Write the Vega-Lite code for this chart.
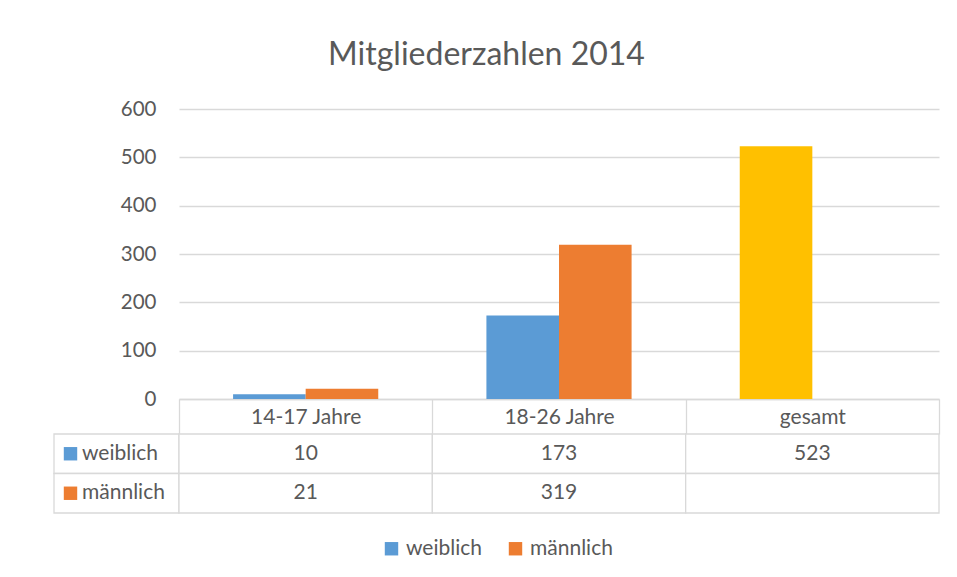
{
  "$schema": "https://vega.github.io/schema/vega-lite/v6.json",
  "autosize": {"type": "pad"},
  "padding": {"left": 53, "top": 39, "right": 19, "bottom": 10},
  "background": "white",
  "title": {
    "text": "Mitgliederzahlen 2014",
    "font": "Lato",
    "fontSize": 32,
    "fontWeight": "normal",
    "color": "#595959",
    "anchor": "middle",
    "dx": -10,
    "offset": 27
  },
  "data": {
    "values": [
      {"kategorie": "14-17 Jahre", "serie": "weiblich", "wert": 10},
      {"kategorie": "14-17 Jahre", "serie": "männlich", "wert": 21},
      {"kategorie": "18-26 Jahre", "serie": "weiblich", "wert": 173},
      {"kategorie": "18-26 Jahre", "serie": "männlich", "wert": 319},
      {"kategorie": "gesamt", "serie": "weiblich", "wert": 523},
      {"kategorie": "gesamt", "serie": "männlich", "wert": null}
    ]
  },
  "columns": 2,
  "spacing": {"row": 35, "column": 0},
  "bounds": "flush",
  "resolve": {"scale": {"x": "independent", "y": "independent"}},
  "concat": [
    {
      "width": 125,
      "height": 290,
      "data": {"values": [{}]},
      "mark": {"type": "text"},
      "encoding": {"text": {"value": ""}}
    },
    {
      "width": 760,
      "height": 290,
      "mark": {"type": "bar"},
      "encoding": {
        "x": {
          "field": "kategorie",
          "type": "nominal",
          "sort": null,
          "scale": {"paddingInner": 0, "paddingOuter": 0},
          "axis": {
            "title": null,
            "labelAngle": 0,
            "grid": false,
            "domainColor": "#d9d9d9",
            "domainWidth": 1.3,
            "tickColor": "#d9d9d9",
            "tickWidth": 1.3,
            "tickBand": "extent",
            "tickSize": 35,
            "labelPadding": -17,
            "labelBaseline": "middle",
            "labelFont": "Lato",
            "labelFontSize": 21,
            "labelColor": "#595959"
          }
        },
        "xOffset": {
          "field": "serie",
          "type": "nominal",
          "sort": ["weiblich", "männlich"],
          "scale": {"paddingInner": 0, "paddingOuter": 0.745}
        },
        "y": {
          "field": "wert",
          "type": "quantitative",
          "scale": {"domain": [0, 600]},
          "axis": {
            "title": null,
            "values": [0, 100, 200, 300, 400, 500, 600],
            "domain": false,
            "ticks": false,
            "labelPadding": 23,
            "gridColor": "#d9d9d9",
            "gridWidth": 1.3,
            "labelFont": "Lato",
            "labelFontSize": 20.5,
            "labelColor": "#595959"
          }
        },
        "color": {
          "field": "serie",
          "type": "nominal",
          "condition": {"test": "datum.kategorie === 'gesamt'", "value": "#FFC000"},
          "scale": {"domain": ["weiblich", "männlich"], "range": ["#5B9BD5", "#ED7D31"]},
          "legend": {
            "title": null,
            "orient": "bottom",
            "direction": "horizontal",
            "offset": 24
          }
        }
      }
    },
    {
      "width": 125,
      "height": 79,
      "transform": [{"filter": "datum.kategorie === '14-17 Jahre'"}],
      "encoding": {
        "y": {
          "field": "serie",
          "type": "nominal",
          "sort": ["weiblich", "männlich"],
          "scale": {"paddingInner": 0, "paddingOuter": 0},
          "axis": null
        }
      },
      "layer": [
        {
          "mark": {"type": "rect", "fill": "white", "stroke": "#d9d9d9", "strokeWidth": 1.3}
        },
        {
          "mark": {"type": "point", "shape": "square", "filled": true, "size": 180, "opacity": 1, "strokeWidth": 0, "xOffset": -46},
          "encoding": {
            "color": {"field": "serie", "type": "nominal"}
          }
        },
        {
          "mark": {"type": "text", "align": "left", "baseline": "middle", "xOffset": -34.5, "font": "Lato", "fontSize": 21, "color": "#595959"},
          "encoding": {"text": {"field": "serie"}}
        }
      ]
    },
    {
      "width": 760,
      "height": 79,
      "encoding": {
        "x": {
          "field": "kategorie",
          "type": "nominal",
          "sort": null,
          "scale": {"paddingInner": 0, "paddingOuter": 0},
          "axis": null
        },
        "y": {
          "field": "serie",
          "type": "nominal",
          "sort": ["weiblich", "männlich"],
          "scale": {"paddingInner": 0, "paddingOuter": 0},
          "axis": null
        }
      },
      "layer": [
        {
          "mark": {"type": "rect", "fill": "white", "stroke": "#d9d9d9", "strokeWidth": 1.3}
        },
        {
          "transform": [{"filter": "isValid(datum.wert)"}],
          "mark": {"type": "text", "baseline": "middle", "font": "Lato", "fontSize": 21, "color": "#595959"},
          "encoding": {"text": {"field": "wert", "type": "quantitative"}}
        }
      ]
    }
  ],
  "config": {
    "view": {"stroke": null},
    "legend": {
      "symbolType": "square",
      "symbolSize": 180,
      "symbolStrokeWidth": 0,
      "labelFont": "Lato",
      "labelFontSize": 21,
      "labelColor": "#595959",
      "labelOffset": 4,
      "columnPadding": 23,
      "layout": {"bottom": {"anchor": "middle"}}
    }
  }
}
